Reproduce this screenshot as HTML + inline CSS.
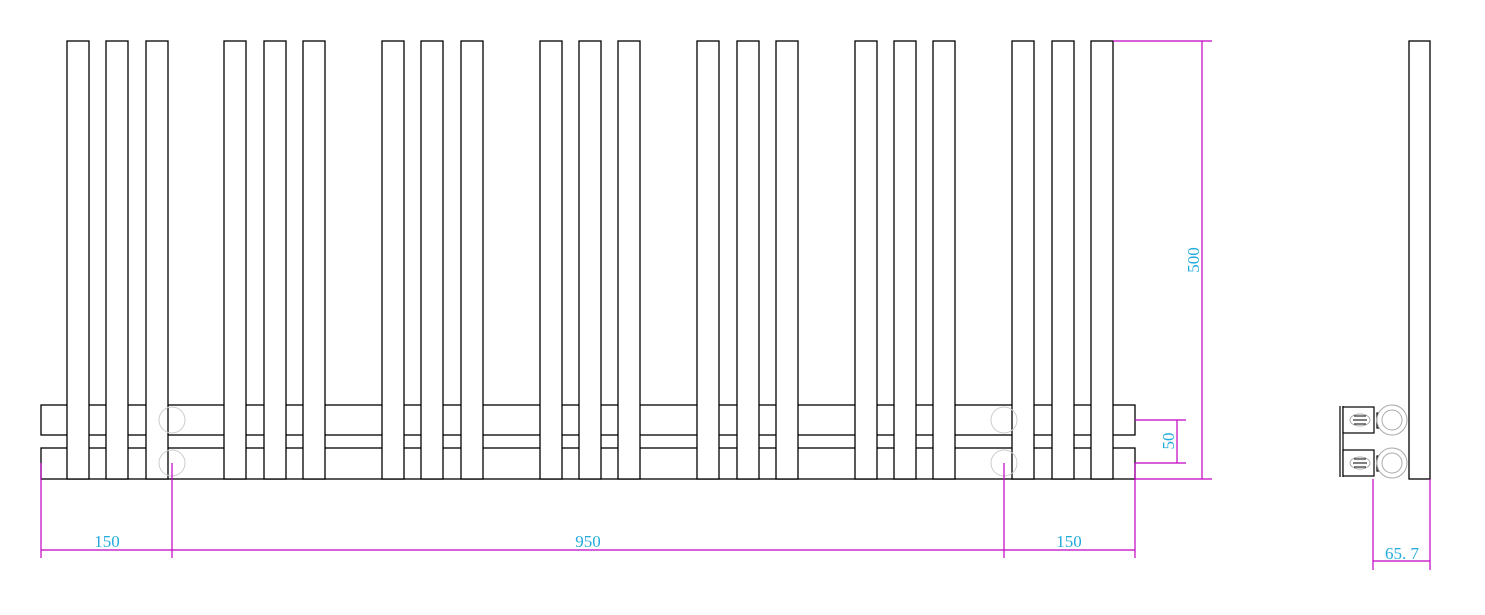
<!DOCTYPE html><html><head><style>body{margin:0;background:#fff}</style></head><body>
<svg width="1485" height="610" xmlns="http://www.w3.org/2000/svg" font-family="Liberation Serif, serif">
<rect width="1485" height="610" fill="#fff"/>
<g fill="#fff" stroke="#000" stroke-width="1.3">
<rect x="41" y="405" width="1094" height="30"/>
<rect x="41" y="448" width="1094" height="31"/>
</g>
<g fill="#fff" stroke="#000" stroke-width="1.3">
<rect x="67" y="41" width="22" height="438"/><rect x="106" y="41" width="22" height="438"/><rect x="146" y="41" width="22" height="438"/>
<rect x="224" y="41" width="22" height="438"/><rect x="264" y="41" width="22" height="438"/><rect x="303" y="41" width="22" height="438"/>
<rect x="382" y="41" width="22" height="438"/><rect x="421" y="41" width="22" height="438"/><rect x="461" y="41" width="22" height="438"/>
<rect x="540" y="41" width="22" height="438"/><rect x="579" y="41" width="22" height="438"/><rect x="618" y="41" width="22" height="438"/>
<rect x="697" y="41" width="22" height="438"/><rect x="737" y="41" width="22" height="438"/><rect x="776" y="41" width="22" height="438"/>
<rect x="855" y="41" width="22" height="438"/><rect x="894" y="41" width="22" height="438"/><rect x="933" y="41" width="22" height="438"/>
<rect x="1012" y="41" width="22" height="438"/><rect x="1052" y="41" width="22" height="438"/><rect x="1091" y="41" width="22" height="438"/>
<rect x="1409" y="41" width="21" height="438"/>
</g>
<g fill="none" stroke="#ccc" stroke-width="1">
<circle cx="172" cy="420" r="13"/><circle cx="172" cy="463" r="13"/>
<circle cx="1004" cy="420" r="13"/><circle cx="1004" cy="463" r="13"/>
</g>
<g stroke="#c000c0" stroke-width="1.2" fill="none">
<line x1="41" y1="463" x2="41" y2="558"/><line x1="172" y1="463" x2="172" y2="558"/>
<line x1="1004" y1="463" x2="1004" y2="558"/><line x1="1135" y1="463" x2="1135" y2="558"/>
<line x1="41" y1="550" x2="1135" y2="550"/>
<line x1="1113" y1="41" x2="1212" y2="41"/><line x1="1135" y1="479" x2="1212" y2="479"/>
<line x1="1202" y1="41" x2="1202" y2="479"/>
<line x1="1135" y1="420" x2="1186" y2="420"/><line x1="1135" y1="463" x2="1186" y2="463"/>
<line x1="1177" y1="420" x2="1177" y2="463"/>
<line x1="1373" y1="479" x2="1373" y2="570"/><line x1="1430" y1="479" x2="1430" y2="570"/>
<line x1="1373" y1="561" x2="1430" y2="561"/>
</g>
<g fill="#22aadd" font-size="17" text-anchor="middle">
<text x="107" y="547">150</text><text x="588" y="547">950</text><text x="1069" y="547">150</text>
<text x="1402" y="559">65. 7</text>
<text transform="translate(1199,260) rotate(-90)">500</text>
<text transform="translate(1174,441) rotate(-90)">50</text>
</g>
<g stroke="#000" stroke-width="1.2" fill="#fff">
<line x1="1340" y1="406" x2="1340" y2="477"/><line x1="1343" y1="406" x2="1343" y2="477"/>
<rect x="1343" y="407" width="31" height="26"/><rect x="1343" y="450" width="31" height="26"/>
<rect x="1377" y="413" width="9" height="15"/><rect x="1377" y="456" width="9" height="15"/>
</g>
<g stroke="#aaa" fill="#fff" stroke-width="1">
<circle cx="1392" cy="420" r="15"/><circle cx="1392" cy="420" r="10"/>
<circle cx="1392" cy="463" r="15"/><circle cx="1392" cy="463" r="10"/>
<ellipse cx="1360" cy="420" rx="10" ry="6"/><ellipse cx="1360" cy="463" rx="10" ry="6"/>
</g>
<g stroke="#000" stroke-width="1">
<line x1="1354" y1="416" x2="1366" y2="416"/><line x1="1353" y1="420" x2="1367" y2="420"/><line x1="1354" y1="424" x2="1366" y2="424"/>
<line x1="1354" y1="459" x2="1366" y2="459"/><line x1="1353" y1="463" x2="1367" y2="463"/><line x1="1354" y1="467" x2="1366" y2="467"/>
</g>
</svg>
</body></html>
